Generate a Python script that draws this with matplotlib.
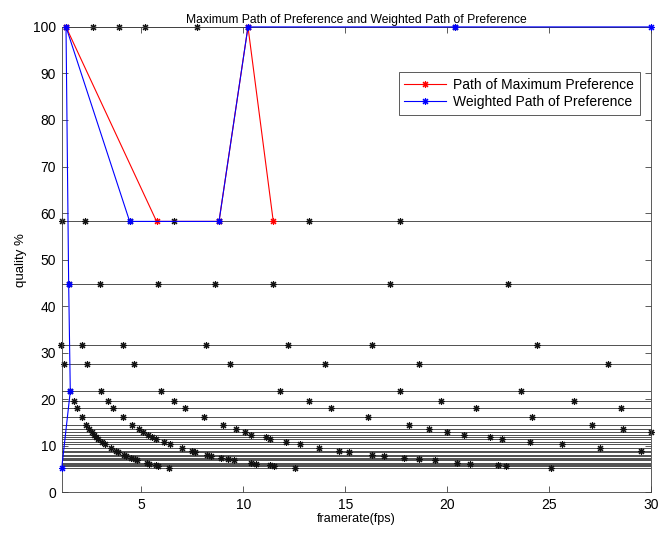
import matplotlib
matplotlib.use("Agg")
import matplotlib.pyplot as plt

plt.rcParams['font.family'] = ['Liberation Sans', 'DejaVu Sans']

# quality levels (%) and the framerates (fps) of the points on each level
levels = [100.0, 58.2, 44.8, 31.6, 27.5, 21.7, 19.6, 18.2, 16.2, 14.4,
          13.5, 12.9, 12.4, 11.9, 11.5, 10.8, 10.3, 9.4, 8.8, 8.6,
          8.0, 7.8, 7.4, 7.1, 6.9, 6.3, 6.15, 5.8, 5.7, 5.2]
level_fps = [
    [1.31, 2.63, 3.91, 5.18, 7.73, 10.23, 20.4],
    [1.12, 2.24, 4.43, 6.6, 8.81, 13.24, 17.68],
    [1.44, 2.96, 5.82, 8.63, 11.47, 17.2, 23.0],
    [1.08, 2.08, 4.09, 8.16, 12.2, 16.3, 24.4],
    [1.2, 2.34, 4.66, 9.35, 14.0, 18.6, 27.9],
    [1.52, 3.02, 5.95, 11.8, 17.7, 23.6],
    [1.70, 3.35, 6.62, 13.2, 19.7, 26.2],
    [1.85, 3.63, 7.16, 14.3, 21.4, 28.5],
    [2.08, 4.09, 8.07, 16.1, 24.15],
    [2.29, 4.54, 9.03, 18.1, 27.1],
    [2.46, 4.87, 9.63, 19.1, 28.6],
    [2.57, 5.10, 10.08, 20.0, 30.0],
    [2.68, 5.31, 10.4, 20.8],
    [2.79, 5.53, 11.1, 22.1],
    [2.89, 5.72, 11.3, 22.7],
    [3.07, 6.09, 12.1, 24.05],
    [3.22, 6.39, 12.8, 25.6],
    [3.53, 7.0, 13.7, 27.5],
    [3.77, 7.48, 14.7, 29.5],
    [3.86, 7.65, 15.2],
    [4.15, 8.2, 16.3],
    [4.26, 8.44, 16.9],
    [4.49, 8.89, 17.9],
    [4.68, 9.27, 18.6],
    [4.81, 9.54, 19.4],
    [5.27, 10.4, 20.5],
    [5.4, 10.6, 21.1],
    [5.72, 11.3, 22.5],
    [5.82, 11.5, 22.9],
    [6.38, 12.55, 25.1],
]

max_fps = [1.31, 5.75, 8.81, 10.23, 11.47]
max_q = [100.0, 58.2, 58.2, 100.0, 58.2]

weighted_fps = [1.1, 1.52, 1.44, 1.31, 4.43, 8.81, 10.23, 20.4, 30.0]
weighted_q = [5.2, 21.7, 44.8, 100.0, 58.2, 58.2, 100.0, 100.0, 100.0]

x_min, x_max = 1.1, 30

star = (8, 2, 0)

fig = plt.figure(figsize=(6.68, 5.33), dpi=100)
ax = fig.add_axes([0.0924, 0.0765, 0.8826, 0.873])

for q, xs in zip(levels, level_fps):
    ax.plot([x_min, x_max], [q, q], color='#505050', lw=0.7, zorder=1)
    ax.plot(xs, [q] * len(xs), ls='none', marker=star, ms=5,
            mec='#111111', mew=0.8, zorder=2, clip_on=False)

ax.plot(max_fps, max_q, color='red', lw=0.8, marker=star, ms=5,
        mec='red', mew=0.8, label='Path of Maximum Preference', zorder=3,
        clip_on=False)
ax.plot(weighted_fps, weighted_q, color='blue', lw=0.8, marker=star, ms=5,
        mec='blue', mew=0.8, label='Weighted Path of Preference', zorder=4,
        clip_on=False)

ax.set_xlim(x_min, x_max)
ax.set_ylim(0, 100)
ax.set_xticks([5, 10, 15, 20, 25, 30])
ax.set_yticks(range(0, 101, 10))
ax.tick_params(direction='in', top=True, right=True, labelsize=10,
               length=4, width=0.6, color='#404040', pad=4)
for s in ax.spines.values():
    s.set_linewidth(0.6)
    s.set_color('#404040')

ax.set_title('Maximum Path of Preference and Weighted Path of Preference',
             fontsize=8.7, pad=3)
ax.set_xlabel('framerate(fps)', fontsize=9, labelpad=1)
ax.set_ylabel('quality %', fontsize=9.5, labelpad=4)

leg = ax.legend(loc='upper right', bbox_to_anchor=(0.98, 0.903),
                borderaxespad=0, fancybox=False, fontsize=10,
                edgecolor='#404040', framealpha=1, handlelength=3,
                handletextpad=0.5, borderpad=0.4, labelspacing=0.25)
leg.get_frame().set_linewidth(0.6)

fig.savefig('out.png', dpi=100)
